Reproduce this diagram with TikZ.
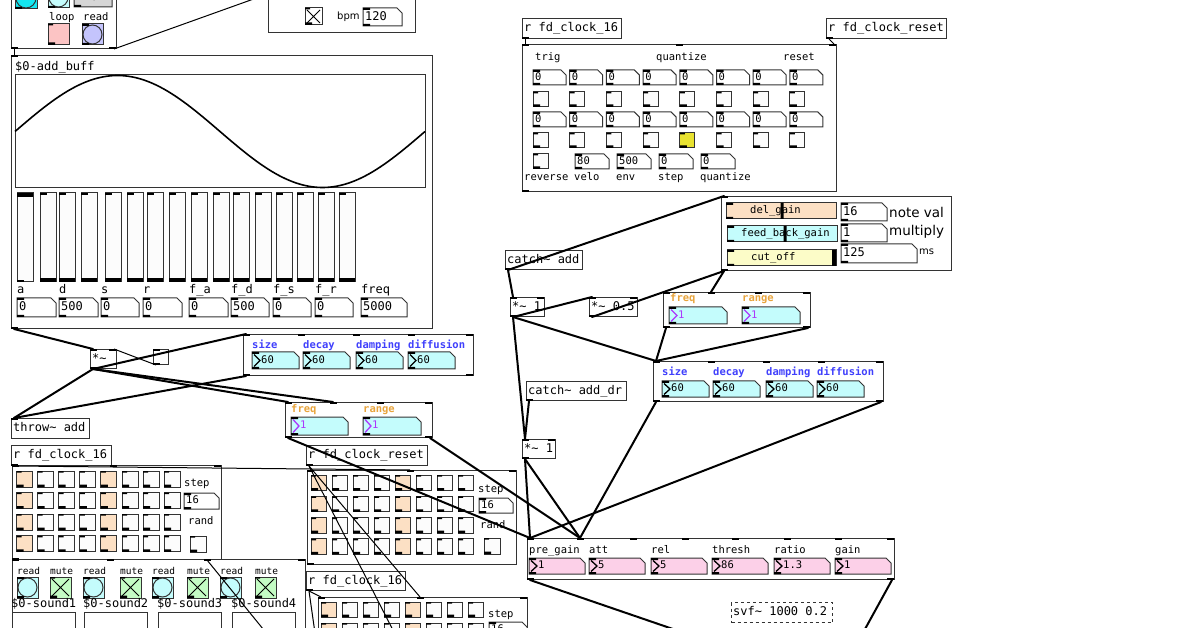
\documentclass[tikz,border=0pt]{standalone}
\usepackage{fontspec}
\usepackage{xcolor}
\usetikzlibrary{calc}
\newfontfamily\pdmono{DejaVu Sans Mono}
\newfontfamily\pdsansfam{DejaVu Sans}
\newcommand{\pdfont}{\pdmono\fontsize{12pt}{14pt}\selectfont}
\newcommand{\pdsmall}{\pdmono\fontsize{10.5pt}{12pt}\selectfont}
\newcommand{\pdtiny}{\pdmono\fontsize{9.5pt}{11pt}\selectfont}
\newcommand{\pdsans}[1]{\pdsansfam\fontsize{#1}{#1}\selectfont}
\newcommand{\pdtilde}{\textasciitilde}

\definecolor{pdbg}{RGB}{252,252,252}
\definecolor{pdpeach}{RGB}{252,224,196}
\definecolor{pdcyan}{RGB}{196,252,252}
\definecolor{pdbright}{RGB}{20,230,240}
\definecolor{pdpink}{RGB}{252,208,232}
\definecolor{pdlight}{RGB}{252,252,200}
\definecolor{pdgreen}{RGB}{196,252,196}
\definecolor{pdlav}{RGB}{196,196,252}
\definecolor{pdrose}{RGB}{252,196,196}
\definecolor{pdgrey}{RGB}{214,214,214}
\definecolor{pdgold}{RGB}{232,226,48}
\definecolor{pdblue}{RGB}{64,64,252}
\definecolor{pdorange}{RGB}{232,164,60}
\definecolor{pdpurple}{RGB}{172,56,252}

\tikzset{
  pdline/.style={line width=1pt, draw=black!80},
  pdobj/.style={pdline, fill=white, rectangle, anchor=north west, inner sep=0pt},
  pdtxt/.style={anchor=west, inner sep=0pt, font=\pdfont, text height=8.5pt, text depth=2pt},
  small/.style={font=\pdsmall, text height=7.5pt, text depth=1.8pt},
  tiny/.style={font=\pdtiny, text height=7pt, text depth=1.6pt},
  pdlbl/.style={pdtxt, small, font=\pdsmall\bfseries},
  sanslbl/.style={anchor=west, inner sep=0pt},
  sig/.style={line width=2pt, line cap=round},
  ctl/.style={line width=1pt},
}

% object box with its text
\newcommand{\pdobject}[7][]{%
  \node[pdobj,#1,minimum width=#5pt,minimum height=#6pt] (#2) at (#3,#4) {};
  \node[pdtxt] (#2-t) at ([xshift=2pt]#2.west) {#7};
}
% inlet and outlet tabs
\newcommand{\ins}[2]{\foreach \o in {#2} {\fill ([xshift=\o pt]#1.north west) rectangle ++(7,2);}}
\newcommand{\outs}[2]{\foreach \o in {#2} {\fill ([xshift=\o pt]#1.south west) rectangle ++(7,-2);}}
% number box
\newcommand{\pdnum}[8][]{%
  \draw[pdline, fill=#7] (#3,#4) -- ++(#5-5,0) -- ++(5,5) -- ++(0,#6-5) -- ++(-#5,0) -- cycle;
  \fill (#3,#4) rectangle ++(7,2) (#3,#4+#6) rectangle ++(7,-2);
  \node[pdtxt,#1] (#2) at (#3+2,#4+#6/2) {#8};
}
% number box with drag marker
\newcommand{\pddrag}[9][]{%
  \draw[pdline, fill=#7] (#3,#4) -- ++(#5-5,0) -- ++(5,5) -- ++(0,#6-5) -- ++(-#5,0) -- cycle;
  \fill (#3,#4) rectangle ++(7,2) (#3,#4+#6) rectangle ++(7,-2);
  \draw[#8, line width=1.3pt] (#3+2,#4+2.5) -- (#3+8,#4+#6/2) -- (#3+2,#4+#6-2.5);
  \node[pdtxt,small,text=#8,#1] (#2) at (#3+9,#4+#6/2) {#9};
}
% toggle, crossed toggle, bang
\newcommand{\pdtgl}[4]{%
  \draw[pdline, fill=#4] (#1,#2) rectangle ++(#3,#3);
  \fill (#1,#2) rectangle ++(5,1.5) (#1,#2+#3) rectangle ++(7,-2.5);
}
\newcommand{\pdcross}[4]{%
  \pdtgl{#1}{#2}{#3}{#4}
  \draw[line width=1pt] (#1+2,#2+2) -- ++(#3-4,#3-4) (#1+#3-2,#2+2) -- ++(-#3+4,#3-4);
}
\newcommand{\pdbng}[4]{%
  \draw[pdline, fill=#4] (#1,#2) rectangle ++(#3,#3);
  \draw[pdline] (#1+#3/2,#2+#3/2) circle[radius={(#3/2-1)*1pt}];
  \fill (#1,#2) rectangle ++(7,2) (#1,#2+#3) rectangle ++(7,-2);
}

\begin{document}
\begin{tikzpicture}[x=1pt,y=-1pt]
\useasboundingbox (0,0) rectangle (1200,628);
\fill[white] (0,0) rectangle (1200,628);
\clip (0,0) rectangle (1200,628);

% ---- top left controls
\node[pdobj, minimum width=105pt, minimum height=70pt] (ctrl) at (11,-22) {};
\pdbng{15}{-13}{22}{pdbright}
\pdbng{48}{-13}{21}{pdcyan}
\pdnum{cnt}{74}{-12}{38}{19}{pdgrey}{120}
\node[pdtxt,small] (loop-l) at (49,18) {loop};
\pdtgl{48}{24}{21}{pdrose}
\node[pdtxt,small] (read-l) at (83,18) {read};
\pdbng{82}{24}{21}{pdlav}
\outs{ctrl}{0,98}

% ---- tempo
\node[pdobj, minimum width=147pt, minimum height=52pt] (tempo) at (268,-20) {};
\pdcross{305}{8}{17}{white}
\node[sanslbl, font=\pdsans{10pt}] (bpm-l) at (337,17) {bpm};
\pdnum{bpm}{363}{8}{39}{18}{white}{120}

% ---- buffer and envelope
\node[pdobj, minimum width=421pt, minimum height=273pt] (buff) at (11,55) {};
\ins{buff}{0} \outs{buff}{0}
\node[pdtxt] (buff-l) at (15,67) {\$0-add\_buff};
\draw[pdline] (15,75) rectangle (425,188);
\draw[line width=1.6pt] plot[domain=0:410, samples=150] ({15+\x},{131.5-56*sin(\x/410*360)});
\foreach \sx [count=\k] in {17,40,59,81,105,127,147,169,191,213,233,255,276,297,318,339} {
  \draw[pdline, fill=pdbg] (\sx,193) rectangle ++(16,89);
  \ifnum\k=1
    \fill (\sx,193) rectangle ++(16,4); \fill (\sx,282) rectangle ++(7,-2);
  \else
    \fill (\sx,193) rectangle ++(7,2); \fill (\sx,282) rectangle ++(16,-3.5);
  \fi
}
\foreach \lx/\lw/\lt/\vt [count=\k] in {17/39/a/0, 59/39/d/500, 101/38/s/0, 143/39/r/0,
    189/39/f\_a/0, 231/38/f\_d/500, 273/38/f\_s/0, 315/38/f\_r/0, 361/46/freq/5000} {
  \node[pdtxt] (env\k) at (\lx,290) {\lt};
  \pdnum{envn\k}{\lx}{298}{\lw}{19}{white}{\vt}
}

% ---- left signal chain
\pdobject{mul1}{90}{349}{26}{19}{*\pdtilde}
\ins{mul1}{0,19} \outs{mul1}{0}
\node[pdobj, minimum width=15pt, minimum height=15pt] (tiny) at (153,349) {};
\ins{tiny}{0} \outs{tiny}{0}

\node[pdobj, minimum width=230pt, minimum height=41pt] (verb1) at (243,334) {};
\ins{verb1}{0,55,110,165,223} \outs{verb1}{0,223}
\foreach \vx/\vt [count=\k] in {252/size,303/decay,356/damping,408/diffusion} {
  \node[pdlbl, text=pdblue] (vl\k) at (\vx,346) {\vt};
  \pddrag{vn\k}{\vx}{352}{47}{17}{pdcyan}{black}{60}
}

\node[pdobj, minimum width=147pt, minimum height=35pt] (fr1) at (285,402) {};
\ins{fr1}{0,45,92,140} \outs{fr1}{0,140}
\node[pdlbl, text=pdorange] (fr1f) at (291,410) {freq};
\node[pdlbl, text=pdorange] (fr1r) at (363,410) {range};
\pddrag{fr1a}{291}{417}{57}{18}{pdcyan}{pdpurple}{1}
\pddrag{fr1b}{363}{417}{58}{18}{pdcyan}{pdpurple}{1}

\pdobject{throw}{11}{418}{78}{20}{throw\pdtilde{} add}
\ins{throw}{0}

% ---- left sequencer
\pdobject{clkl}{11}{445}{100}{20}{r fd\_clock\_16}
\outs{clkl}{0}
\node[pdobj, minimum width=209pt, minimum height=94pt] (seql) at (12,465) {};
\ins{seql}{0,98,202} \outs{seql}{0}
\foreach \i/\c in {0/pdpeach,1/pdbg,2/pdbg,3/pdbg,4/pdpeach,5/pdbg,6/pdbg,7/pdbg}
  \foreach \j in {0,...,3}
    \pdtgl{16.5+21.1*\i}{471+21.6*\j}{16}{\c};
\node[pdtxt,small] (seql-s) at (184,484) {step};
\pdnum[small]{seql-n}{184}{493}{35}{16}{white}{16}
\node[pdtxt,small] (seql-r) at (188,522) {rand};
\pdtgl{190}{536}{16}{pdbg}

% ---- sound players
\node[pdobj, minimum width=293pt, minimum height=90pt] (sounds) at (12,559) {};
\ins{sounds}{0,95,192,286}
\foreach \bx/\tx [count=\k] in {17/50,83/120,152/187,220/255} {
  \node[pdtxt,tiny] (rd\k) at (\bx,572) {read};
  \node[pdtxt,tiny] (mt\k) at (\tx,572) {mute};
  \pdbng{\bx}{577}{21}{pdcyan}
  \pdcross{\tx}{577}{21}{pdgreen}
}
\foreach \sx [count=\k] in {12,84,158,232} {
  \node[pdtxt] (snd\k) at (\sx-1,604) {\$0-sound\k};
  \draw[pdline] (\sx,612) rectangle ++(63,40);
}

% ---- middle sequencers
\pdobject{rstl}{306}{445}{121}{20}{r fd\_clock\_reset}
\outs{rstl}{0}
\node[pdobj, minimum width=209pt, minimum height=94pt] (seqr) at (307,470) {};
\ins{seqr}{0,100,202} \outs{seqr}{0}
\foreach \i/\c in {0/pdpeach,1/pdbg,2/pdbg,3/pdbg,4/pdpeach,5/pdbg,6/pdbg,7/pdbg}
  \foreach \j in {0,...,3}
    \pdtgl{311+21*\i}{475+21.3*\j}{15.5}{\c};
\node[pdtxt,small] (seqr-s) at (478,490) {step};
\pdnum[small]{seqr-n}{479}{498}{34}{15}{white}{16}
\node[pdtxt,small] (seqr-r) at (480,526) {rand};
\pdtgl{484}{538}{16}{pdbg}

\pdobject{clkb}{306}{571}{99}{19}{r fd\_clock\_16}
\outs{clkb}{0}
\node[pdobj, minimum width=209pt, minimum height=60pt] (seqb) at (318,597) {};
\ins{seqb}{0,99,202}
\foreach \i/\c in {0/pdpeach,1/pdbg,2/pdbg,3/pdbg,4/pdpeach,5/pdbg,6/pdbg,7/pdbg}
  \foreach \j in {0,1}
    \pdtgl{321+21*\i}{602+21*\j}{15}{\c};
\node[pdtxt,small] (seqb-s) at (488,615) {step};
\pdnum[small]{seqb-n}{489}{622}{38}{15}{white}{16}

% ---- right sequencer
\pdobject{clkt}{522}{18}{99}{20}{r fd\_clock\_16}
\outs{clkt}{0}
\pdobject{rstt}{826}{18}{120}{20}{r fd\_clock\_reset}
\outs{rstt}{0}
\node[pdobj, minimum width=314pt, minimum height=147pt] (seqt) at (522,44) {};
\ins{seqt}{0,154,307} \outs{seqt}{0}
\node[pdtxt,small] (trig) at (535,58) {trig};
\node[pdtxt,small] (quant) at (656,58) {quantize};
\node[pdtxt,small] (reset) at (783,58) {reset};
\foreach \i in {0,...,7} {
  \pdnum[small]{qa\i}{533+36.7*\i}{70}{33}{15}{white}{0}
  \pdtgl{533+36.7*\i}{92}{15}{pdbg}
  \pdnum[small]{qb\i}{533+36.7*\i}{112}{33}{15}{white}{0}
  \pdtgl{533+36.7*\i}{133}{15}{pdbg}
}
\pdtgl{533+36.7*4}{133}{15}{pdgold}
\pdtgl{533}{154}{15}{pdbg}
\pdnum[small]{velo}{575}{154}{34}{15}{white}{80}
\pdnum[small]{envt}{617}{154}{34}{15}{white}{500}
\pdnum[small]{stept}{659}{154}{34}{15}{white}{0}
\pdnum[small]{quantt}{701}{154}{34}{15}{white}{0}
\foreach \lx/\lt [count=\k] in {524/reverse,574/velo,616/env,658/step,700/quantize}
  \node[pdtxt,small] (bl\k) at (\lx,178) {\lt};

% ---- delay
\node[pdobj, minimum width=230pt, minimum height=74pt] (dly) at (721,196) {};
\ins{dly}{0} \outs{dly}{0}
\draw[pdline, fill=pdpeach] (726,203) rectangle ++(110,16);
\fill (726,203) rectangle ++(7,2) (726,219) rectangle ++(7,-2) (780.5,203) rectangle ++(3,16);
\node[pdtxt,small] (delg) at (750,211) {del\_gain};
\draw[pdline, fill=pdcyan] (727,226) rectangle ++(110,16);
\fill (727,226) rectangle ++(7,2) (727,242) rectangle ++(7,-2) (783.5,226) rectangle ++(3,16);
\node[pdtxt,small] (fbg) at (741,234) {feed\_back\_gain};
\draw[pdline, fill=pdlight] (727,250) rectangle ++(109,16);
\fill (727,250) rectangle ++(7,2) (727,266) rectangle ++(7,-2) (832,250) rectangle ++(4,16);
\node[pdtxt,small] (cutf) at (751,258) {cut\_off};
\pdnum{noteval}{841}{203}{46}{18}{white}{16}
\node[sanslbl, font=\pdsans{13.5pt}] (noteval-l) at (889,212) {note val};
\pdnum{mult}{841}{224}{46}{18}{white}{1}
\node[sanslbl, font=\pdsans{13.5pt}] (mult-l) at (889,232) {multiply};
\pdnum{msec}{841}{244}{76}{19}{white}{125}
\node[sanslbl, font=\pdsans{10pt}] (msec-l) at (919,252) {ms};

% ---- right signal chain
\pdobject{catcha}{505}{250}{77}{19}{catch\pdtilde{} add}
\outs{catcha}{0}
\pdobject{mula}{510}{297}{34}{19}{*\pdtilde{} 1}
\ins{mula}{0,27} \outs{mula}{0}
\pdobject{mulh}{589}{297}{48}{19}{*\pdtilde{} 0.5}
\ins{mulh}{0,41} \outs{mulh}{0}

\node[pdobj, minimum width=147pt, minimum height=35pt] (fr2) at (663,292) {};
\ins{fr2}{0,45,92,140} \outs{fr2}{0,140}
\node[pdlbl, text=pdorange] (fr2f) at (670,299) {freq};
\node[pdlbl, text=pdorange] (fr2r) at (742,299) {range};
\pddrag{fr2a}{669}{307}{58}{17}{pdcyan}{pdpurple}{1}
\pddrag{fr2b}{742}{307}{58}{17}{pdcyan}{pdpurple}{1}

\node[pdobj, minimum width=230pt, minimum height=40pt] (verb2) at (653,361) {};
\ins{verb2}{0,55,110,165,223} \outs{verb2}{0,223}
\foreach \vx/\vt [count=\k] in {662/size,713/decay,766/damping,817/diffusion} {
  \node[pdlbl, text=pdblue] (wl\k) at (\vx,373) {\vt};
  \pddrag{wn\k}{\vx}{381}{47}{16}{pdcyan}{black}{60}
}

\pdobject{catchb}{526}{381}{100}{19}{catch\pdtilde{} add\_dr}
\outs{catchb}{0}
\pdobject{mulb}{522}{439}{33}{19}{*\pdtilde{} 1}
\ins{mulb}{0,26} \outs{mulb}{0}

% ---- compressor
\node[pdobj, minimum width=367pt, minimum height=41pt] (comp) at (527,538) {};
\ins{comp}{0,50,103,155,205,257,308,360} \outs{comp}{0,360}
\foreach \cx/\ct/\cv [count=\k] in {529/pre\_gain/1, 589/att/5, 651/rel/5, 712/thresh/86, 774/ratio/1.3, 835/gain/1} {
  \node[pdtxt,small] (cl\k) at (\cx,551) {\ct};
  \pddrag{cn\k}{\cx}{558}{56}{16}{pdpink}{black}{\cv}
}
\pdobject[dashed]{svf}{731}{602}{101}{20}{svf\pdtilde{} 1000 0.2}

% ---- free ends
\coordinate (up) at (262,-4);
\coordinate (dn1) at (272,640);
\coordinate (dn2) at (398,640);
\coordinate (dn3) at (316,640);
\coordinate (out1) at (705,640);
\coordinate (out2) at (859,640);

% ---- connections
\draw[ctl] ([xshift=3pt]ctrl.south west) -- ([xshift=3pt]buff.north west);
\draw[ctl] ([xshift=-3pt]ctrl.south east) -- (up);
\draw[sig] ([xshift=3pt]buff.south west) -- ([xshift=3pt]mul1.north west);
\draw[ctl] ([xshift=3pt]tiny.south west) -- ([xshift=-3pt]mul1.north east);
\draw[sig] ([xshift=3pt]mul1.south west) -- ([xshift=3pt]verb1.north west);
\draw[sig] ([xshift=3pt]mul1.south west) -- ([xshift=3pt]throw.north west);
\draw[sig] ([xshift=3pt]mul1.south west) -- ([xshift=3pt]fr1.north west);
\draw[sig] ([xshift=3pt]mul1.south west) -- ([xshift=48pt]fr1.north west);
\draw[sig] ([xshift=3pt]verb1.south west) -- ([xshift=3pt]throw.north west);
\draw[sig] ([xshift=3pt]fr1.south west) -- ([xshift=3pt]comp.north west);
\draw[sig] ([xshift=-3pt]fr1.south east) -- ([xshift=53pt]comp.north west);
\draw[ctl] ([xshift=3pt]clkl.south west) -- ([xshift=103pt]seqr.north west);
\draw[ctl] ([xshift=3pt]rstl.south west) -- ([xshift=102pt]seqb.north west);
\draw[ctl] ([xshift=3pt]rstl.south west) -- (dn2);
\draw[ctl] ([xshift=3pt]clkb.south west) -- ([xshift=3pt]seqb.north west);
\draw[ctl] ([xshift=3pt]clkb.south west) -- (dn3);
\draw[ctl] ([xshift=195pt]seql.south west) -- (dn1);
\draw[ctl] ([xshift=3pt]clkt.south west) -- ([xshift=3pt]seqt.north west);
\draw[ctl] ([xshift=3pt]rstt.south west) -- ([xshift=-3pt]seqt.north east);
\draw[sig] ([xshift=3pt]catcha.south west) -- ([xshift=3pt]dly.north west);
\draw[sig] ([xshift=3pt]catcha.south west) -- ([xshift=3pt]mula.north west);
\draw[sig] ([xshift=3pt]mula.south west) -- ([xshift=3pt]mulh.north west);
\draw[sig] ([xshift=3pt]mulh.south west) -- ([xshift=3pt]dly.south west);
\draw[sig] ([xshift=3pt]dly.south west) -- ([xshift=48pt]fr2.north west);
\draw[sig] ([xshift=3pt]fr2.south west) -- ([xshift=3pt]verb2.north west);
\draw[sig] ([xshift=-3pt]fr2.south east) -- ([xshift=3pt]verb2.north west);
\draw[sig] ([xshift=3pt]mula.south west) -- ([xshift=3pt]verb2.north west);
\draw[sig] ([xshift=3pt]mula.south west) -- ([xshift=3pt]mulb.north west);
\draw[sig] ([xshift=3pt]catchb.south west) -- ([xshift=3pt]mulb.north west);
\draw[sig] ([xshift=3pt]mulb.south west) -- ([xshift=3pt]comp.north west);
\draw[sig] ([xshift=3pt]mulb.south west) -- ([xshift=53pt]comp.north west);
\draw[sig] ([xshift=3pt]verb2.south west) -- ([xshift=53pt]comp.north west);
\draw[sig] ([xshift=-3pt]verb2.south east) -- ([xshift=3pt]comp.north west);
\draw[sig] ([xshift=3pt]comp.south west) -- (out1);
\draw[sig] ([xshift=-3pt]comp.south east) -- (out2);
\end{tikzpicture}
\end{document}
